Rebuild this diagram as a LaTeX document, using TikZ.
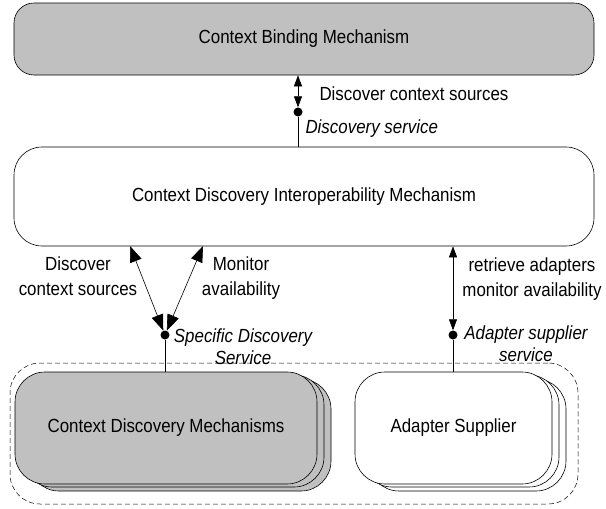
\documentclass[tikz,border=0pt]{standalone}
\usepackage{fontspec}
\setmainfont[FakeStretch=0.89]{Liberation Sans}
\usetikzlibrary{arrows.meta}
\definecolor{boxgray}{RGB}{192,192,192}

\begin{document}
\begin{tikzpicture}[
  x=1pt, y=-1pt,
  font=\fontsize{19}{25}\selectfont,
  mechbox/.style={draw, line width=0.6pt, minimum width=580pt,
                  inner sep=0pt},
  stackbox/.style={draw, line width=0.6pt, rounded corners=30pt,
                   minimum height=112pt, inner sep=0pt},
  groupbox/.style={draw, dash pattern=on 5pt off 3pt, line width=0.5pt,
                   rounded corners=30pt, minimum width=568pt,
                   minimum height=141pt, inner sep=0pt},
  dotnode/.style={circle, fill=black, minimum size=9pt, inner sep=0pt},
  svclabel/.style={font=\fontsize{19}{22}\selectfont\itshape, align=center},
  biarrow/.style={{Triangle[length=11pt,width=8pt]}-{Triangle[length=11pt,width=8pt]},
                  line width=0.6pt},
  fatarrow/.style={{Triangle[length=16pt,width=12pt]}-{Triangle[length=16pt,width=12pt]},
                   line width=0.6pt}
]
  \useasboundingbox (0,0) rectangle (606,509);

  \node[mechbox, fill=boxgray, minimum height=72pt, rounded corners=20pt]
    (cbm) at (304,39) {Context Binding Mechanism};
  \node[mechbox, minimum height=99pt, rounded corners=28pt]
    (cdim) at (304,196.5) {Context Discovery Interoperability Mechanism};

  \node[groupbox] (grp) at (294,433.5) {};

  \foreach \dx/\dy in {14/7, 7/3} {
    \node[stackbox, fill=boxgray, minimum width=302pt] at (166+\dx,428+\dy) {};
    \node[stackbox, fill=white, minimum width=197pt] at (453.5+\dx,428+\dy) {};
  }
  \node[stackbox, fill=boxgray, minimum width=302pt]
    (cdm) at (166,428) {Context Discovery Mechanisms};
  \node[stackbox, fill=white, minimum width=197pt]
    (as) at (453.5,428) {Adapter Supplier};

  \node[dotnode] (ds) at (298,112) {};
  \node[dotnode] (sds) at (165,335) {};
  \node[dotnode] (ass) at (453,335) {};

  \coordinate (dcs) at (130,246);
  \coordinate (mav) at (203,246);

  \draw[biarrow] (cbm.south -| ds) -- (ds);
  \draw[line width=0.6pt] (ds) -- (cdim.north -| ds);
  \draw[fatarrow] (sds) -- (dcs);
  \draw[fatarrow] (sds) -- (mav);
  \draw[line width=0.6pt] (sds) -- (cdm.north -| sds);
  \draw[biarrow] (cdim.south -| ass) -- (ass);
  \draw[line width=0.6pt] (ass) -- (as.north -| ass);

  \node[anchor=base west] (dcslbl) at (316,100) {Discover context sources};
  \node[svclabel, anchor=base west] (dslbl) at (302,133) {Discovery service};
  \node[align=center] (dcs2lbl) at (78,276) {Discover\\context sources};
  \node[align=center] (mavlbl) at (241,278) {Monitor\\availability};
  \node[align=center] (ralbl) at (532,279) {retrieve adapters\\monitor availability};
  \node[svclabel] (sdslbl) at (243,346.5) {Specific Discovery\\Service};
  \node[svclabel] (aslbl) at (526,344) {Adapter supplier\\service};
\end{tikzpicture}
\end{document}
